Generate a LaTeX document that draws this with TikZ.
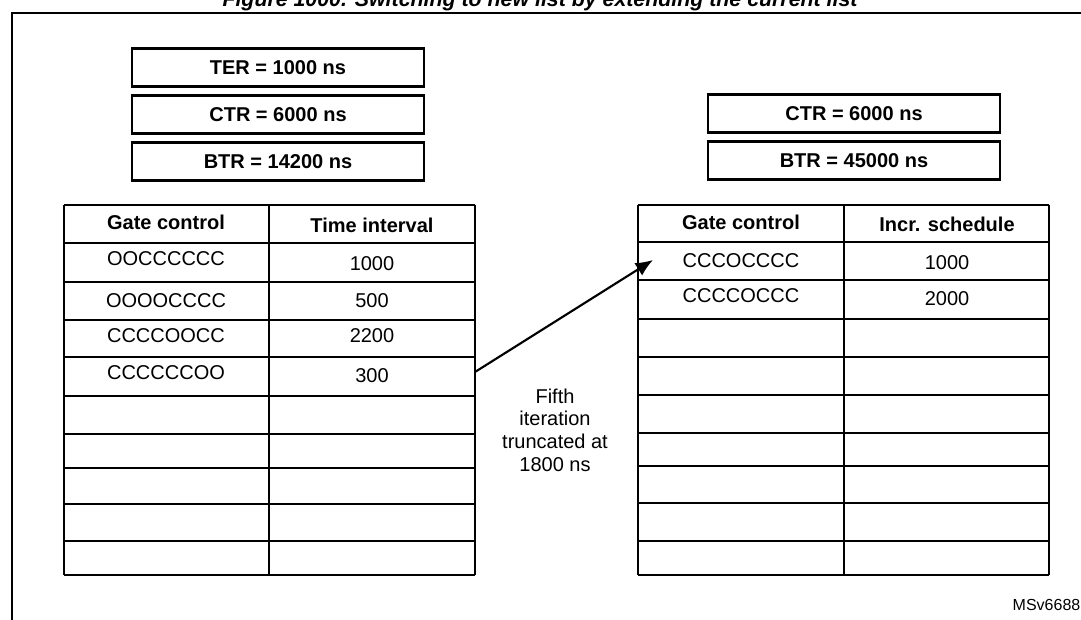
\documentclass[tikz,border=0pt]{standalone}
\usepackage{fontspec}
\setmainfont{Liberation Sans}
\usetikzlibrary{arrows.meta}
\begin{document}
\begin{tikzpicture}[x=0.75pt,y=-0.75pt,
  reg/.style={draw,line width=1.6pt,minimum width=292*0.75pt,minimum height=38*0.75pt,font=\bfseries\fontsize{15}{17}\selectfont,inner sep=0pt},
  cell/.style={font=\fontsize{15}{17}\selectfont},
  hcell/.style={font=\bfseries\fontsize{15}{17}\selectfont},
  tbl/.style={line width=1.6pt}]
\useasboundingbox (0,0) rectangle (1081,620);
\node[font=\bfseries\itshape\fontsize{16}{18}\selectfont] (title) at (540,1) {Figure 1000. Switching to new list by extending the current list};
\draw[line width=1.6pt] (12,620) -- (12,13) -- (1090,13);
% left registers
\node[reg] (ter) at (278,67.5) {TER = 1000 ns};
\node[reg] (ctr1) at (278,114.5) {CTR = 6000 ns};
\node[reg] (btr1) at (278,161.5) {BTR = 14200 ns};
\node[reg] (ctr2) at (854,113.5) {CTR = 6000 ns};
\node[reg] (btr2) at (854,160.5) {BTR = 45000 ns};
% left table
\foreach \y in {205,243,282,320,357,396,434,468,504,541,575}{\draw[tbl] (64,\y) -- (475,\y);}
\draw[tbl] (64,205) -- (64,575) (269,205) -- (269,575) (475,205) -- (475,575);
\node[hcell] (lh1) at (166,222) {Gate control};
\node[hcell] (lh2) at (372,225) {Time interval};
\node[cell] (l11) at (166,259) {OOCCCCCC};
\node[cell] (l12) at (372,264) {1000};
\node[cell] (l21) at (166,301) {OOOOCCCC};
\node[cell] (l22) at (372,301) {500};
\node[cell] (l31) at (166,336) {CCCCOOCC};
\node[cell] (l32) at (372,336) {2200};
\node[cell] (l41) at (166,373) {CCCCCCOO};
\node[cell] (l42) at (372,376) {300};
% right table
\foreach \y in {205,242,280,319,357,395,433,466,503,541,575}{\draw[tbl] (638,\y) -- (1049,\y);}
\draw[tbl] (638,205) -- (638,575) (844,205) -- (844,575) (1049,205) -- (1049,575);
\node[hcell] (rh1) at (741,222) {Gate control};
\node[hcell] (rh2) at (947,224) {Incr. schedule};
\node[cell] (r11) at (741,261) {CCCOCCCC};
\node[cell] (r12) at (947,263) {1000};
\node[cell] (r21) at (741,296) {CCCCOCCC};
\node[cell] (r22) at (947,299) {2000};
\coordinate (as) at (475,372);
\coordinate (ae) at (653,260);
\draw[line width=1.6pt,-{Latex[length=13pt,width=11pt]}] (as) -- (ae);
\node[cell,align=center] (note) at (555,430) {Fifth\\iteration\\truncated at\\1800 ns};
\node[font=\fontsize{12}{14}\selectfont,anchor=west] (id) at (1008,605) {MSv66888V1};
\end{tikzpicture}
\end{document}
